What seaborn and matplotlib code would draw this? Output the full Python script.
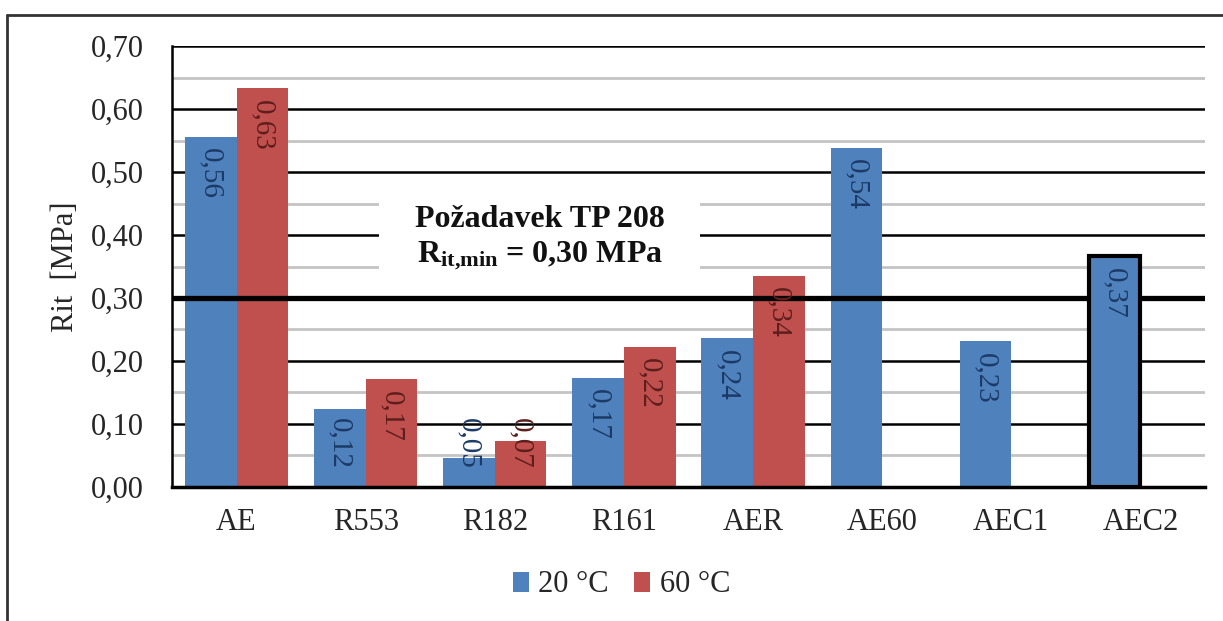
import numpy as np
import pandas as pd
import matplotlib
matplotlib.use("Agg")
import matplotlib.pyplot as plt
from matplotlib.lines import Line2D
from matplotlib.patches import Patch, Rectangle
from matplotlib.ticker import MultipleLocator, FuncFormatter
import seaborn as sns

categories = ["AE", "R553", "R182", "R161", "AER", "AE60", "AEC1", "AEC2"]
vals_20 = [0.556, 0.124, 0.046, 0.173, 0.236, 0.538, 0.231, 0.366]
vals_60 = [0.633, 0.171, 0.073, 0.222, 0.335, np.nan, np.nan, np.nan]
series = ["20 °C", "60 °C"]
colors = ["#4F81BD", "#C0504D"]
label_colors = ["#1B3A66", "#5E1E1C"]
limit_value = 0.30
note_line1 = "Požadavek TP 208"
note_line2 = r"$\mathbf{R_{it{,}min}}$ = 0,30 MPa"
ylabel = "Rit  [MPa]"

rows = []
for c, a, b in zip(categories, vals_20, vals_60):
    rows.append({"cat": c, "series": series[0], "val": a})
    if not np.isnan(b):
        rows.append({"cat": c, "series": series[1], "val": b})
df = pd.DataFrame(rows)

sns.set_theme(style="white")
plt.rcParams["font.family"] = ["Liberation Serif", "DejaVu Serif"]
plt.rcParams["mathtext.fontset"] = "custom"
plt.rcParams["mathtext.rm"] = "Liberation Serif"
plt.rcParams["mathtext.bf"] = "Liberation Serif:bold"
plt.rcParams["mathtext.it"] = "Liberation Serif:italic"

fig = plt.figure(figsize=(12.23, 6.21), dpi=100)
ax = fig.add_axes([0.1406, 0.2158, 0.9853 - 0.1406, 0.9259 - 0.2158])

sns.barplot(data=df, x="cat", y="val", hue="series", order=categories,
            hue_order=series, palette=colors, width=0.8, saturation=1,
            errorbar=None, ax=ax, zorder=3, legend=False, linewidth=0)

ax.set_ylim(0, 0.70)
ax.set_xlim(-0.5, len(categories) - 0.5)
ax.yaxis.set_major_locator(MultipleLocator(0.1))
ax.yaxis.set_minor_locator(MultipleLocator(0.05))
ax.yaxis.set_major_formatter(FuncFormatter(lambda v, p: f"{v:.2f}".replace(".", ",")))
ax.grid(False)
ax.set_axisbelow(True)
for yv in np.arange(0.05, 0.70, 0.1):
    ax.axhline(yv, color="#C4C4C4", lw=2.0, zorder=1)
for yv in np.arange(0.1, 0.71, 0.1):
    ax.axhline(yv, color="black", lw=1.8, zorder=1)
ax.axhline(limit_value, color="black", lw=3.8, zorder=5)

for s in ["top", "right"]:
    ax.spines[s].set_visible(False)
ax.spines["left"].set_color("black")
ax.spines["left"].set_linewidth(1.8)
ax.spines["bottom"].set_color("black")
ax.spines["bottom"].set_linewidth(2.5)
ax.spines["bottom"].set_zorder(8)

ax.tick_params(axis="y", which="both", length=0, pad=20, labelsize=22, colors="#262626")
ax.tick_params(axis="x", length=0, pad=15, labelsize=22, colors="#262626")
ax.set_xlabel("")
ax.set_ylabel(ylabel, fontsize=22, color="#262626", labelpad=8)

# AEC2 bar outlined and drawn above the limit line
cont20 = ax.containers[0]
b_aec2 = cont20[categories.index("AEC2")]
b_aec2.set_edgecolor("black")
b_aec2.set_linewidth(3)
b_aec2.set_zorder(6)

# value labels
for ci, cont in enumerate(ax.containers):
    for bar in cont:
        h = bar.get_height()
        if h is None or np.isnan(h) or h <= 0:
            continue
        xc = bar.get_x() + bar.get_width() / 2
        ytop = max(h - 0.018, 0.11)
        ax.text(xc, ytop, f"{h:.2f}".replace(".", ","), rotation=270,
                ha="center", va="top", fontsize=21, color=label_colors[ci], zorder=7)

# annotation box
ax.add_patch(Rectangle((1.10, 0.341), 2.49, 0.118, facecolor="white",
                       edgecolor="none", zorder=2))
ax.text(2.35, 0.4127, note_line1, ha="center", va="baseline",
        fontsize=23, fontweight="bold", color="#111111", zorder=6)
ax.text(2.35, 0.357, note_line2, ha="center", va="baseline",
        fontsize=23, fontweight="bold", color="#111111", zorder=6)

handles = [Patch(facecolor=colors[i], edgecolor="none", label=series[i]) for i in range(2)]
fig.legend(handles=handles, loc="center", bbox_to_anchor=(0.508, 0.058), ncol=2,
           frameon=False, fontsize=22, handlelength=0.55, handleheight=0.65,
           handletextpad=0.3, columnspacing=0.8)

# outer chart border (left and top)
fig.add_artist(Line2D([0.0057, 0.0057], [0.0, 0.976], color="#333333", lw=2,
                      transform=fig.transFigure))
fig.add_artist(Line2D([0.0057, 1.0], [0.976, 0.976], color="#333333", lw=2,
                      transform=fig.transFigure))

fig.savefig("out.png", dpi=100, facecolor="white")
